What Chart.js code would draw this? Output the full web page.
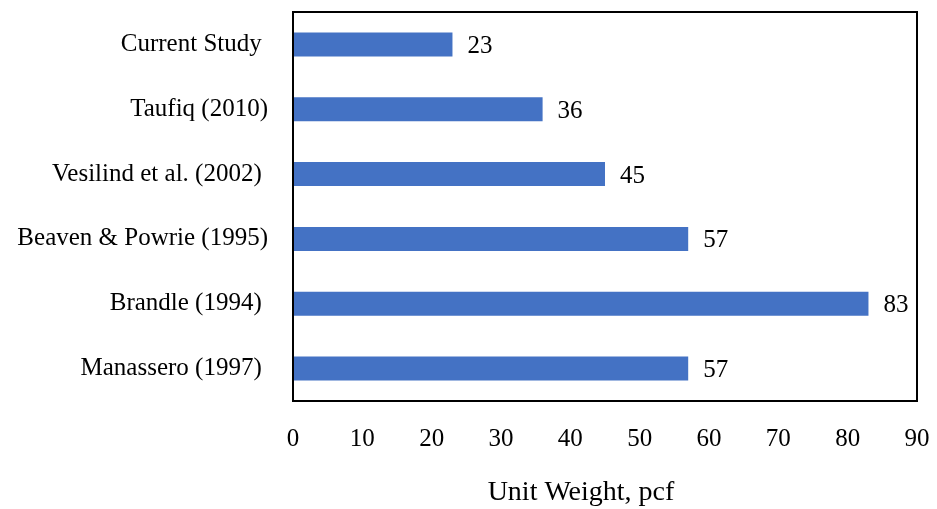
<!DOCTYPE html>
<html>
<head>
<meta charset="utf-8">
<script src="https://cdn.jsdelivr.net/npm/chart.js@4/dist/chart.umd.min.js"></script>
<style>
  html, body { margin: 0; padding: 0; background: #fff; }
  #wrap { width: 937px; height: 509px; }
</style>
</head>
<body>
<div id="wrap"><canvas id="c" width="937" height="509"></canvas></div>
<script>
const studies = ["Current Study ", "Taufiq (2010)", "Vesilind et al. (2002) ", "Beaven & Powrie (1995)", "Brandle (1994) ", "Manassero (1997) "];
const unitWeights = [23, 36, 45, 57, 83, 57];
const xTicks = [0, 10, 20, 30, 40, 50, 60, 70, 80, 90];
const xTitle = "Unit Weight, pcf";

const FONT = "'Liberation Serif', 'DejaVu Serif', serif";

// Frame around the plotting area, value labels at the bar ends, axis title
const framePlugin = {
  id: 'frame',
  afterDatasetsDraw(chart) {
    const ctx = chart.ctx;
    const a = chart.chartArea;
    ctx.save();
    ctx.strokeStyle = '#000';
    ctx.lineWidth = 2;
    ctx.strokeRect(a.left, a.top, a.right - a.left, a.bottom - a.top);
    ctx.fillStyle = '#000';
    ctx.font = "25px " + FONT;
    ctx.textAlign = 'left';
    ctx.textBaseline = 'middle';
    chart.getDatasetMeta(0).data.forEach((bar, i) => {
      ctx.fillText(String(unitWeights[i]), bar.x + 15, bar.y + 2);
    });
    // x-axis title, set a little left of the plot centre
    ctx.font = "28px " + FONT;
    ctx.textAlign = 'center';
    ctx.textBaseline = 'alphabetic';
    ctx.fillText(xTitle, (a.left + a.right) / 2 - 24, 500);
    ctx.restore();
  }
};

function noScalePadding(scale) {
  scale.paddingTop = 0;
  scale.paddingBottom = 0;
  scale.paddingLeft = 0;
  scale.paddingRight = 0;
}

new Chart(document.getElementById('c'), {
  type: 'bar',
  data: {
    labels: studies,
    datasets: [{
      data: unitWeights,
      backgroundColor: '#4472C4',
      borderWidth: 0,
      barPercentage: 0.74,
      categoryPercentage: 0.5
    }]
  },
  options: {
    indexAxis: 'y',
    responsive: false,
    animation: false,
    layout: { padding: { top: 12, right: 20, bottom: 0, left: 0 } },
    plugins: { legend: { display: false }, tooltip: { enabled: false } },
    scales: {
      x: {
        min: 0, max: 90,
        afterBuildTicks(scale) { scale.ticks = xTicks.map(v => ({ value: v })); },
        grid: { display: false, drawTicks: false },
        border: { display: false },
        ticks: { color: '#000', font: { family: FONT, size: 25 }, padding: 23 },
        title: { display: false },
        afterFit(scale) { scale.height = 108; noScalePadding(scale); }
      },
      y: {
        grid: { display: false, drawTicks: false },
        border: { display: false },
        ticks: { color: '#000', font: { family: FONT, size: 25 }, padding: 25 },
        afterFit(scale) { scale.width = 293; noScalePadding(scale); }
      }
    }
  },
  plugins: [framePlugin]
});
</script>
</body>
</html>
